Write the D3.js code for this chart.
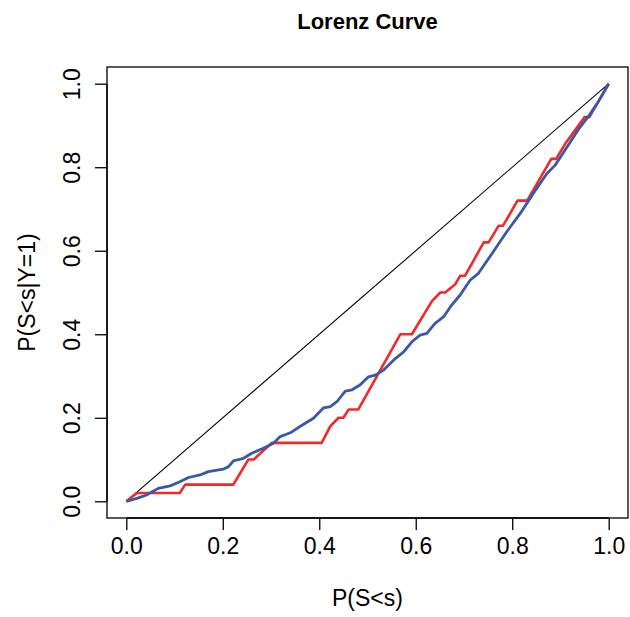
<!DOCTYPE html>
<html>
<head>
<meta charset="utf-8">
<script src="https://cdn.jsdelivr.net/npm/d3@7"></script>
<style>
body{margin:0;background:#fff;}
text{font-family:"Liberation Sans",Arial,Helvetica,sans-serif;}
</style>
</head>
<body>
<div id="chart"></div>
<script>
var width=630, height=617;
var margin={top:67, right:2, bottom:99, left:107};

var ticks=[0, 0.2, 0.4, 0.6, 0.8, 1.0];
var tickLabels=["0.0","0.2","0.4","0.6","0.8","1.0"];

// red curve (stepped lorenz, 50 positives)
var redX=[0,0.022,0.111,0.122,0.222,0.253,0.264,0.302,0.405,0.423,0.44,0.45,0.461,0.481,0.568,0.592,0.634,0.651,0.661,0.682,0.692,0.702,0.741,0.751,0.772,0.781,0.811,0.831,0.881,0.891,0.912,0.95,0.96,1.0];
var redY=[0,0.02,0.02,0.04,0.04,0.10,0.10,0.14,0.14,0.18,0.20,0.20,0.22,0.22,0.40,0.40,0.48,0.50,0.50,0.52,0.54,0.54,0.62,0.62,0.66,0.66,0.72,0.72,0.82,0.82,0.86,0.92,0.92,1.0];

// blue curve
var blueX=[0,0.022,0.042,0.066,0.091,0.111,0.129,0.153,0.170,0.201,0.212,0.222,0.243,0.260,0.284,0.305,0.319,0.340,0.360,0.388,0.409,0.423,0.437,0.454,0.468,0.485,0.502,0.516,0.533,0.554,0.575,0.592,0.609,0.623,0.640,0.658,0.672,0.692,0.713,0.730,0.761,0.789,0.817,0.844,0.872,0.889,0.914,0.94,0.96,0.98,1.0];
var blueY=[0,0.007,0.015,0.031,0.037,0.047,0.057,0.063,0.071,0.077,0.083,0.097,0.103,0.115,0.127,0.139,0.155,0.164,0.179,0.199,0.224,0.227,0.239,0.264,0.267,0.279,0.298,0.302,0.314,0.338,0.358,0.382,0.398,0.402,0.426,0.442,0.466,0.494,0.530,0.546,0.598,0.646,0.690,0.738,0.785,0.805,0.849,0.895,0.925,0.96,1.0];

var svg=d3.select('#chart').append('svg')
    .attr('width', width)
    .attr('height', height);

var x=d3.scaleLinear().domain([-0.04,1.04]).range([margin.left, width-margin.right]);
var y=d3.scaleLinear().domain([-0.04,1.04]).range([height-margin.bottom, margin.top]);

var line=d3.line().x(d=>x(d[0])).y(d=>y(d[1]));

// diagonal
svg.append('path')
    .attr('d', line([[0,0],[1,1]]))
    .attr('fill','none').attr('stroke','#000').attr('stroke-width',1.1);

svg.append('path')
    .attr('d', line(redX.map((v,i)=>[v,redY[i]])))
    .attr('fill','none').attr('stroke','#ee2a2a').attr('stroke-width',2.6)
    .attr('stroke-linejoin','round');

svg.append('path')
    .attr('d', line(blueX.map((v,i)=>[v,blueY[i]])))
    .attr('fill','none').attr('stroke','#3a58a8').attr('stroke-width',2.8)
    .attr('stroke-linejoin','round');

// box
svg.append('rect')
    .attr('x', margin.left).attr('y', margin.top)
    .attr('width', width-margin.left-margin.right)
    .attr('height', height-margin.top-margin.bottom)
    .attr('fill','none').attr('stroke','#000').attr('stroke-width',1.3);

var xAxis=svg.append('g')
    .attr('transform','translate(0,'+(height-margin.bottom)+')')
    .call(d3.axisBottom(x).tickValues(ticks).tickFormat((d,i)=>tickLabels[i]).tickSize(12).tickPadding(8));
xAxis.select('.domain').attr('d','M'+x(0)+',0H'+x(1)).attr('stroke-width',1.3);
xAxis.selectAll('line').attr('stroke-width',1.3);
xAxis.selectAll('text').attr('font-size',23).attr('font-family',null).attr('fill','#000');

var yAxis=svg.append('g')
    .attr('transform','translate('+margin.left+',0)')
    .call(d3.axisLeft(y).tickValues(ticks).tickFormat((d,i)=>tickLabels[i]).tickSize(12));
yAxis.select('.domain').attr('d','M0,'+y(0)+'V'+y(1)).attr('stroke-width',1.3);
yAxis.selectAll('line').attr('stroke-width',1.3);
yAxis.selectAll('text')
    .attr('font-size',23).attr('font-family',null).attr('fill','#000')
    .attr('x',null).attr('dy',null)
    .attr('text-anchor','middle')
    .attr('transform','translate(-27,0) rotate(-90)');

svg.append('text')
    .attr('x', (margin.left+width-margin.right)/2).attr('y', 29)
    .attr('text-anchor','middle').attr('font-size',22).attr('font-weight','bold')
    .text('Lorenz Curve');

svg.append('text')
    .attr('x', (margin.left+width-margin.right)/2).attr('y', 606)
    .attr('text-anchor','middle').attr('font-size',23)
    .text('P(S<s)');

svg.append('text')
    .attr('transform','translate(35,'+((margin.top+height-margin.bottom)/2)+') rotate(-90)')
    .attr('text-anchor','middle').attr('font-size',23)
    .text('P(S<s|Y=1)');
</script>
</body>
</html>
